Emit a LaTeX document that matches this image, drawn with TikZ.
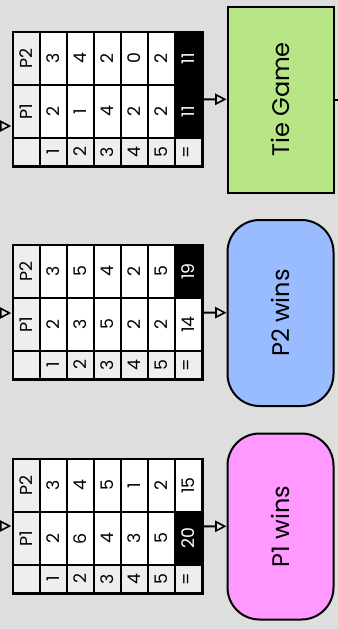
\documentclass[tikz,border=0pt]{standalone}
\usepackage{fontspec}
\setmainfont{Poppins}
\usetikzlibrary{arrows.meta,positioning}
\definecolor{bgcol}{HTML}{DEDEDE}
\definecolor{hdcol}{HTML}{EEEEEE}
\definecolor{tiecol}{HTML}{B8E686}
\definecolor{ptwocol}{HTML}{99BBFF}
\definecolor{ponecol}{HTML}{FF99FF}

\tikzset{
  cell/.style={rotate=90, inner sep=0pt, minimum height=18.4pt, font=\fontsize{13}{15}\selectfont},
  pcell/.style={cell, minimum width=37.9pt},
  icell/.style={cell, minimum width=19.1pt, fill=hdcol},
  plain/.style={fill=white},
  win/.style={fill=black, text=white},
  endbox/.style={rotate=90, draw, line width=1.5pt, inner sep=0pt, minimum width=139.5pt,
    minimum height=79.5pt, font=\fontsize{18}{20}\selectfont},
  endround/.style={endbox, rounded corners=24pt},
  flow/.style={line width=1.5pt, -{Triangle[open, length=8.5pt, width=8.5pt, line width=1.2pt]}}
}

% #1 name, #2 top, #3/#4 rounds of P1/P2, #5/#6 totals, #7/#8 total styles
\newcommand{\scoretab}[8]{%
  \node[fill=black, inner sep=0pt, minimum width=144pt, minimum height=102.75pt] (#1) at (107.5,#2+67) {};
  \node[pcell, fill=hdcol] (#1-p2-0) at (26.5,#2+26.5) {P2};
  \node[pcell, fill=hdcol] (#1-p1-0) at (26.5,#2+79.5) {P1};
  \node[icell] (#1-i-0) at (26.5,#2+120) {};
  \foreach \v [count=\r] in {#3}
    \node[pcell, plain] (#1-p1-\r) at (26.5+27*\r,#2+79.5) {\v};
  \foreach \v [count=\r] in {#4}
    \node[pcell, plain] (#1-p2-\r) at (26.5+27*\r,#2+26.5) {\v};
  \foreach \r in {1,...,5}
    \node[icell] (#1-i-\r) at (26.5+27*\r,#2+120) {\r};
  \node[icell] (#1-i-6) at (188.5,#2+120) {=};
  \node[pcell, #7] (#1-p1-6) at (188.5,#2+79.5) {#5};
  \node[pcell, #8] (#1-p2-6) at (188.5,#2+26.5) {#6};
}

\begin{document}
\begin{tikzpicture}[x=0.75pt, y=-0.75pt]
\fill[bgcol] (0,0) rectangle (338,629);
\useasboundingbox (0,0) rectangle (338,629);

% score tables
\scoretab{tabtie}{32}{2,1,4,2,2}{3,4,2,0,2}{11}{11}{win}{win}
\scoretab{tabtwo}{245}{2,3,5,2,2}{3,5,4,2,5}{14}{19}{plain}{win}
\scoretab{tabone}{459}{2,6,4,3,5}{3,4,5,1,2}{20}{15}{win}{plain}

% outcomes
\node[endbox, fill=tiecol] (tie) at (280.5,99.5) {Tie Game};
\node[endround, fill=ptwocol] (ptwo) at (280.5,313) {P2 wins};
\node[endround, fill=ponecol] (pone) at (280.5,526.5) {P1 wins};

% incoming edges
\coordinate (intie) at (0,126);
\coordinate (intwo) at (0,313);
\coordinate (inone) at (0,526);
\coordinate (outtie) at (338,99.5);
\draw[flow] (intie) -- (intie -| tabtie.west);
\draw[flow] (intwo) -- (intwo -| tabtwo.west);
\draw[flow] (inone) -- (inone -| tabone.west);

\draw[flow] (tabtie) -- (tie);
\draw[flow] (tabtwo) -- (ptwo);
\draw[flow] (tabone) -- (pone);
\draw[line width=1.5pt] (tie) -- (outtie);
\end{tikzpicture}
\end{document}
